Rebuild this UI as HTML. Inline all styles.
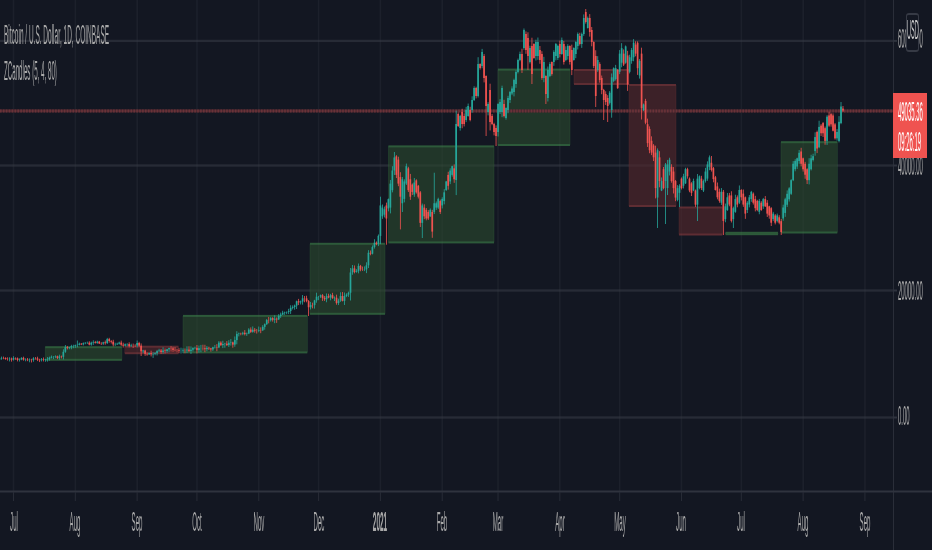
<!DOCTYPE html>
<html><head><meta charset="utf-8"><style>
html,body{margin:0;padding:0;background:#131722;width:932px;height:550px;overflow:hidden;position:relative;font-family:"Liberation Sans", sans-serif}
.t{position:absolute;line-height:1;white-space:nowrap;transform-origin:0 0;filter:grayscale(1)}
</style></head><body>
<svg width="932" height="550" viewBox="0 0 932 550" style="position:absolute;left:0;top:0"><rect x="0" y="0" width="932" height="550" fill="#131722"/><rect x="12.60" y="0" width="1.8" height="491" fill="#181c27"/><rect x="74.41" y="0" width="1.8" height="491" fill="#181c27"/><rect x="136.23" y="0" width="1.8" height="491" fill="#181c27"/><rect x="196.05" y="0" width="1.8" height="491" fill="#181c27"/><rect x="257.86" y="0" width="1.8" height="491" fill="#181c27"/><rect x="317.68" y="0" width="1.8" height="491" fill="#181c27"/><rect x="379.50" y="0" width="1.8" height="491" fill="#181c27"/><rect x="441.31" y="0" width="1.8" height="491" fill="#181c27"/><rect x="497.14" y="0" width="1.8" height="491" fill="#181c27"/><rect x="558.96" y="0" width="1.8" height="491" fill="#181c27"/><rect x="618.78" y="0" width="1.8" height="491" fill="#181c27"/><rect x="680.59" y="0" width="1.8" height="491" fill="#181c27"/><rect x="740.41" y="0" width="1.8" height="491" fill="#181c27"/><rect x="802.22" y="0" width="1.8" height="491" fill="#181c27"/><rect x="864.04" y="0" width="1.8" height="491" fill="#181c27"/><rect x="0" y="39.70" width="893" height="2.4" fill="#20242f"/><rect x="0" y="164.30" width="893" height="2.4" fill="#20242f"/><rect x="0" y="289.30" width="893" height="2.4" fill="#20242f"/><rect x="0" y="416.30" width="893" height="2.4" fill="#20242f"/><rect x="45.20" y="347.20" width="76.70" height="12.60" fill="#213629"/><rect x="45.20" y="346.20" width="76.70" height="2" fill="#2d5a3a"/><rect x="45.20" y="358.80" width="76.70" height="2" fill="#2d5a3a"/><rect x="44.90" y="347.20" width="0.6" height="12.60" fill="#2d5a3a" opacity="0.6"/><rect x="121.60" y="347.20" width="0.6" height="12.60" fill="#2d5a3a" opacity="0.6"/><rect x="124.80" y="346.70" width="53.70" height="6.50" fill="#3c2128"/><rect x="124.80" y="345.70" width="53.70" height="2" fill="#5e2d33"/><rect x="124.80" y="352.20" width="53.70" height="2" fill="#5e2d33"/><rect x="124.50" y="346.70" width="0.6" height="6.50" fill="#5e2d33" opacity="0.6"/><rect x="178.20" y="346.70" width="0.6" height="6.50" fill="#5e2d33" opacity="0.6"/><rect x="183.00" y="315.90" width="124.30" height="36.50" fill="#213629"/><rect x="183.00" y="314.90" width="124.30" height="2" fill="#2d5a3a"/><rect x="183.00" y="351.40" width="124.30" height="2" fill="#2d5a3a"/><rect x="182.70" y="315.90" width="0.6" height="36.50" fill="#2d5a3a" opacity="0.6"/><rect x="307.00" y="315.90" width="0.6" height="36.50" fill="#2d5a3a" opacity="0.6"/><rect x="310.00" y="243.80" width="75.00" height="70.00" fill="#213629"/><rect x="310.00" y="242.80" width="75.00" height="2" fill="#2d5a3a"/><rect x="310.00" y="312.80" width="75.00" height="2" fill="#2d5a3a"/><rect x="309.70" y="243.80" width="0.6" height="70.00" fill="#2d5a3a" opacity="0.6"/><rect x="384.70" y="243.80" width="0.6" height="70.00" fill="#2d5a3a" opacity="0.6"/><rect x="388.40" y="146.40" width="105.60" height="96.00" fill="#213629"/><rect x="388.40" y="145.40" width="105.60" height="2" fill="#2d5a3a"/><rect x="388.40" y="241.40" width="105.60" height="2" fill="#2d5a3a"/><rect x="388.10" y="146.40" width="0.6" height="96.00" fill="#2d5a3a" opacity="0.6"/><rect x="493.70" y="146.40" width="0.6" height="96.00" fill="#2d5a3a" opacity="0.6"/><rect x="498.00" y="69.60" width="72.00" height="75.40" fill="#213629"/><rect x="498.00" y="68.60" width="72.00" height="2" fill="#2d5a3a"/><rect x="498.00" y="144.00" width="72.00" height="2" fill="#2d5a3a"/><rect x="497.70" y="69.60" width="0.6" height="75.40" fill="#2d5a3a" opacity="0.6"/><rect x="569.70" y="69.60" width="0.6" height="75.40" fill="#2d5a3a" opacity="0.6"/><rect x="574.00" y="70.00" width="55.00" height="14.00" fill="#3c2128"/><rect x="574.00" y="69.00" width="55.00" height="2" fill="#5e2d33"/><rect x="574.00" y="83.00" width="55.00" height="2" fill="#5e2d33"/><rect x="573.70" y="70.00" width="0.6" height="14.00" fill="#5e2d33" opacity="0.6"/><rect x="628.70" y="70.00" width="0.6" height="14.00" fill="#5e2d33" opacity="0.6"/><rect x="629.00" y="85.00" width="47.00" height="121.00" fill="#3c2128"/><rect x="629.00" y="84.00" width="47.00" height="2" fill="#5e2d33"/><rect x="629.00" y="205.00" width="47.00" height="2" fill="#5e2d33"/><rect x="628.70" y="85.00" width="0.6" height="121.00" fill="#5e2d33" opacity="0.6"/><rect x="675.70" y="85.00" width="0.6" height="121.00" fill="#5e2d33" opacity="0.6"/><rect x="679.00" y="207.50" width="43.40" height="27.00" fill="#3c2128"/><rect x="679.00" y="206.50" width="43.40" height="2" fill="#5e2d33"/><rect x="679.00" y="233.50" width="43.40" height="2" fill="#5e2d33"/><rect x="678.70" y="207.50" width="0.6" height="27.00" fill="#5e2d33" opacity="0.6"/><rect x="722.10" y="207.50" width="0.6" height="27.00" fill="#5e2d33" opacity="0.6"/><rect x="725.50" y="232.80" width="52.50" height="1.40" fill="#213629"/><rect x="725.50" y="231.80" width="52.50" height="2" fill="#2d5a3a"/><rect x="725.50" y="233.20" width="52.50" height="2" fill="#2d5a3a"/><rect x="725.20" y="232.80" width="0.6" height="1.40" fill="#2d5a3a" opacity="0.6"/><rect x="777.70" y="232.80" width="0.6" height="1.40" fill="#2d5a3a" opacity="0.6"/><rect x="781.00" y="142.20" width="56.30" height="90.30" fill="#213629"/><rect x="781.00" y="141.20" width="56.30" height="2" fill="#2d5a3a"/><rect x="781.00" y="231.50" width="56.30" height="2" fill="#2d5a3a"/><rect x="780.70" y="142.20" width="0.6" height="90.30" fill="#2d5a3a" opacity="0.6"/><rect x="837.00" y="142.20" width="0.6" height="90.30" fill="#2d5a3a" opacity="0.6"/><rect x="12.60" y="0" width="1.8" height="491" fill="#ffffff" opacity="0.018"/><rect x="74.41" y="0" width="1.8" height="491" fill="#ffffff" opacity="0.018"/><rect x="136.23" y="0" width="1.8" height="491" fill="#ffffff" opacity="0.018"/><rect x="196.05" y="0" width="1.8" height="491" fill="#ffffff" opacity="0.018"/><rect x="257.86" y="0" width="1.8" height="491" fill="#ffffff" opacity="0.018"/><rect x="317.68" y="0" width="1.8" height="491" fill="#ffffff" opacity="0.018"/><rect x="379.50" y="0" width="1.8" height="491" fill="#ffffff" opacity="0.018"/><rect x="441.31" y="0" width="1.8" height="491" fill="#ffffff" opacity="0.018"/><rect x="497.14" y="0" width="1.8" height="491" fill="#ffffff" opacity="0.018"/><rect x="558.96" y="0" width="1.8" height="491" fill="#ffffff" opacity="0.018"/><rect x="618.78" y="0" width="1.8" height="491" fill="#ffffff" opacity="0.018"/><rect x="680.59" y="0" width="1.8" height="491" fill="#ffffff" opacity="0.018"/><rect x="740.41" y="0" width="1.8" height="491" fill="#ffffff" opacity="0.018"/><rect x="802.22" y="0" width="1.8" height="491" fill="#ffffff" opacity="0.018"/><rect x="864.04" y="0" width="1.8" height="491" fill="#ffffff" opacity="0.018"/><rect x="0" y="39.70" width="893" height="2.4" fill="#ffffff" opacity="0.035"/><rect x="0" y="164.30" width="893" height="2.4" fill="#ffffff" opacity="0.035"/><rect x="0" y="289.30" width="893" height="2.4" fill="#ffffff" opacity="0.035"/><rect x="0" y="416.30" width="893" height="2.4" fill="#ffffff" opacity="0.035"/><rect x="0" y="109.4" width="893" height="3" fill="#4c2830"/><line x1="0" y1="110.9" x2="893" y2="110.9" stroke="#6a3339" stroke-width="3" stroke-dasharray="1.6 1.3"/><rect x="-0.86" y="357.80" width="0.8" height="3.20" fill="#26a69a"/><rect x="-1.31" y="358.52" width="1.7" height="1.00" fill="#26a69a"/><rect x="1.14" y="356.58" width="0.8" height="3.15" fill="#26a69a"/><rect x="0.69" y="357.88" width="1.7" height="0.64" fill="#26a69a"/><rect x="3.13" y="356.62" width="0.8" height="2.62" fill="#ef5350"/><rect x="2.68" y="357.88" width="1.7" height="0.06" fill="#ef5350"/><rect x="5.12" y="357.33" width="0.8" height="2.39" fill="#ef5350"/><rect x="4.67" y="357.94" width="1.7" height="1.15" fill="#ef5350"/><rect x="7.12" y="357.35" width="0.8" height="3.23" fill="#ef5350"/><rect x="6.67" y="359.09" width="1.7" height="0.07" fill="#ef5350"/><rect x="9.11" y="357.26" width="0.8" height="4.16" fill="#26a69a"/><rect x="8.66" y="358.70" width="1.7" height="0.46" fill="#26a69a"/><rect x="11.11" y="357.61" width="0.8" height="4.00" fill="#ef5350"/><rect x="10.66" y="358.70" width="1.7" height="0.94" fill="#ef5350"/><rect x="13.10" y="356.27" width="0.8" height="4.31" fill="#26a69a"/><rect x="12.65" y="358.06" width="1.7" height="1.59" fill="#26a69a"/><rect x="15.09" y="357.38" width="0.8" height="2.44" fill="#ef5350"/><rect x="14.64" y="358.06" width="1.7" height="0.17" fill="#ef5350"/><rect x="17.09" y="357.46" width="0.8" height="3.93" fill="#ef5350"/><rect x="16.64" y="358.23" width="1.7" height="1.78" fill="#ef5350"/><rect x="19.08" y="358.36" width="0.8" height="3.18" fill="#26a69a"/><rect x="18.63" y="359.41" width="1.7" height="0.60" fill="#26a69a"/><rect x="21.08" y="357.26" width="0.8" height="2.96" fill="#26a69a"/><rect x="20.63" y="357.85" width="1.7" height="1.57" fill="#26a69a"/><rect x="23.07" y="356.71" width="0.8" height="3.94" fill="#ef5350"/><rect x="22.62" y="357.85" width="1.7" height="1.83" fill="#ef5350"/><rect x="25.06" y="358.33" width="0.8" height="2.93" fill="#26a69a"/><rect x="24.61" y="359.51" width="1.7" height="0.17" fill="#26a69a"/><rect x="27.06" y="357.96" width="0.8" height="3.21" fill="#ef5350"/><rect x="26.61" y="359.51" width="1.7" height="0.68" fill="#ef5350"/><rect x="29.05" y="358.39" width="0.8" height="3.90" fill="#26a69a"/><rect x="28.60" y="359.68" width="1.7" height="0.52" fill="#26a69a"/><rect x="31.05" y="358.75" width="0.8" height="3.70" fill="#ef5350"/><rect x="30.60" y="359.68" width="1.7" height="0.41" fill="#ef5350"/><rect x="33.04" y="357.19" width="0.8" height="4.54" fill="#26a69a"/><rect x="32.59" y="358.32" width="1.7" height="1.78" fill="#26a69a"/><rect x="35.03" y="357.08" width="0.8" height="2.59" fill="#ef5350"/><rect x="34.58" y="358.32" width="1.7" height="0.03" fill="#ef5350"/><rect x="37.03" y="356.70" width="0.8" height="4.39" fill="#ef5350"/><rect x="36.58" y="358.34" width="1.7" height="1.38" fill="#ef5350"/><rect x="39.02" y="358.75" width="0.8" height="3.31" fill="#ef5350"/><rect x="38.57" y="359.72" width="1.7" height="0.51" fill="#ef5350"/><rect x="41.02" y="358.01" width="0.8" height="3.41" fill="#26a69a"/><rect x="40.57" y="359.38" width="1.7" height="0.85" fill="#26a69a"/><rect x="43.01" y="357.47" width="0.8" height="3.93" fill="#ef5350"/><rect x="42.56" y="359.38" width="1.7" height="0.62" fill="#ef5350"/><rect x="45.00" y="358.81" width="0.8" height="2.94" fill="#26a69a"/><rect x="44.55" y="359.40" width="1.7" height="0.61" fill="#26a69a"/><rect x="47.00" y="357.06" width="0.8" height="4.52" fill="#26a69a"/><rect x="46.55" y="359.05" width="1.7" height="0.35" fill="#26a69a"/><rect x="48.99" y="356.66" width="0.8" height="3.90" fill="#26a69a"/><rect x="48.54" y="357.74" width="1.7" height="1.31" fill="#26a69a"/><rect x="50.99" y="355.51" width="0.8" height="2.98" fill="#26a69a"/><rect x="50.54" y="356.71" width="1.7" height="1.03" fill="#26a69a"/><rect x="52.98" y="356.06" width="0.8" height="3.04" fill="#26a69a"/><rect x="52.53" y="356.64" width="1.7" height="0.06" fill="#26a69a"/><rect x="54.97" y="355.37" width="0.8" height="2.76" fill="#26a69a"/><rect x="54.52" y="356.24" width="1.7" height="0.40" fill="#26a69a"/><rect x="56.97" y="355.62" width="0.8" height="3.43" fill="#ef5350"/><rect x="56.52" y="356.24" width="1.7" height="1.64" fill="#ef5350"/><rect x="58.96" y="354.64" width="0.8" height="4.97" fill="#26a69a"/><rect x="58.51" y="356.46" width="1.7" height="1.42" fill="#26a69a"/><rect x="60.96" y="355.55" width="0.8" height="2.84" fill="#ef5350"/><rect x="60.51" y="356.46" width="1.7" height="0.33" fill="#ef5350"/><rect x="62.95" y="349.29" width="0.8" height="10.16" fill="#26a69a"/><rect x="62.50" y="351.78" width="1.7" height="5.01" fill="#26a69a"/><rect x="64.94" y="345.00" width="0.8" height="7.79" fill="#26a69a"/><rect x="64.49" y="347.14" width="1.7" height="4.65" fill="#26a69a"/><rect x="66.94" y="345.91" width="0.8" height="3.51" fill="#ef5350"/><rect x="66.49" y="347.14" width="1.7" height="0.90" fill="#ef5350"/><rect x="68.93" y="346.83" width="0.8" height="2.43" fill="#26a69a"/><rect x="68.48" y="347.34" width="1.7" height="0.70" fill="#26a69a"/><rect x="70.93" y="344.79" width="0.8" height="4.48" fill="#26a69a"/><rect x="70.48" y="346.14" width="1.7" height="1.20" fill="#26a69a"/><rect x="72.92" y="344.73" width="0.8" height="3.50" fill="#26a69a"/><rect x="72.47" y="346.01" width="1.7" height="0.13" fill="#26a69a"/><rect x="74.91" y="344.59" width="0.8" height="3.27" fill="#26a69a"/><rect x="74.46" y="345.17" width="1.7" height="0.84" fill="#26a69a"/><rect x="76.91" y="340.50" width="0.8" height="6.78" fill="#26a69a"/><rect x="76.46" y="344.78" width="1.7" height="0.38" fill="#26a69a"/><rect x="78.90" y="342.60" width="0.8" height="2.84" fill="#26a69a"/><rect x="78.45" y="343.70" width="1.7" height="1.09" fill="#26a69a"/><rect x="80.90" y="343.11" width="0.8" height="1.99" fill="#ef5350"/><rect x="80.45" y="343.70" width="1.7" height="0.68" fill="#ef5350"/><rect x="82.89" y="342.44" width="0.8" height="2.95" fill="#26a69a"/><rect x="82.44" y="343.18" width="1.7" height="1.19" fill="#26a69a"/><rect x="84.88" y="342.22" width="0.8" height="2.03" fill="#26a69a"/><rect x="84.43" y="342.72" width="1.7" height="0.47" fill="#26a69a"/><rect x="86.88" y="341.61" width="0.8" height="2.38" fill="#26a69a"/><rect x="86.43" y="342.66" width="1.7" height="0.06" fill="#26a69a"/><rect x="88.87" y="341.24" width="0.8" height="4.11" fill="#ef5350"/><rect x="88.42" y="342.66" width="1.7" height="1.96" fill="#ef5350"/><rect x="90.87" y="341.66" width="0.8" height="4.01" fill="#26a69a"/><rect x="90.42" y="342.68" width="1.7" height="1.94" fill="#26a69a"/><rect x="92.86" y="340.34" width="0.8" height="4.56" fill="#26a69a"/><rect x="92.41" y="342.12" width="1.7" height="0.56" fill="#26a69a"/><rect x="94.85" y="340.89" width="0.8" height="2.65" fill="#ef5350"/><rect x="94.40" y="342.12" width="1.7" height="0.76" fill="#ef5350"/><rect x="96.85" y="340.65" width="0.8" height="3.13" fill="#26a69a"/><rect x="96.40" y="341.66" width="1.7" height="1.22" fill="#26a69a"/><rect x="98.84" y="340.92" width="0.8" height="3.11" fill="#ef5350"/><rect x="98.39" y="341.66" width="1.7" height="1.84" fill="#ef5350"/><rect x="100.84" y="342.20" width="0.8" height="2.81" fill="#ef5350"/><rect x="100.39" y="343.50" width="1.7" height="0.14" fill="#ef5350"/><rect x="102.83" y="341.76" width="0.8" height="3.17" fill="#26a69a"/><rect x="102.38" y="342.30" width="1.7" height="1.34" fill="#26a69a"/><rect x="104.82" y="340.50" width="0.8" height="4.16" fill="#ef5350"/><rect x="104.37" y="342.30" width="1.7" height="0.82" fill="#ef5350"/><rect x="106.82" y="337.88" width="0.8" height="6.07" fill="#26a69a"/><rect x="106.37" y="339.11" width="1.7" height="4.00" fill="#26a69a"/><rect x="108.81" y="337.81" width="0.8" height="4.83" fill="#ef5350"/><rect x="108.36" y="339.11" width="1.7" height="1.86" fill="#ef5350"/><rect x="110.81" y="340.14" width="0.8" height="3.35" fill="#ef5350"/><rect x="110.36" y="340.97" width="1.7" height="0.76" fill="#ef5350"/><rect x="112.80" y="339.78" width="0.8" height="6.59" fill="#ef5350"/><rect x="112.35" y="341.73" width="1.7" height="2.78" fill="#ef5350"/><rect x="114.79" y="342.68" width="0.8" height="3.25" fill="#26a69a"/><rect x="114.34" y="344.29" width="1.7" height="0.22" fill="#26a69a"/><rect x="116.79" y="342.66" width="0.8" height="2.38" fill="#26a69a"/><rect x="116.34" y="343.70" width="1.7" height="0.59" fill="#26a69a"/><rect x="118.78" y="341.66" width="0.8" height="2.93" fill="#26a69a"/><rect x="118.33" y="342.58" width="1.7" height="1.12" fill="#26a69a"/><rect x="120.78" y="340.61" width="0.8" height="5.25" fill="#ef5350"/><rect x="120.33" y="342.58" width="1.7" height="2.11" fill="#ef5350"/><rect x="122.77" y="342.70" width="0.8" height="4.85" fill="#ef5350"/><rect x="122.32" y="344.69" width="1.7" height="0.93" fill="#ef5350"/><rect x="124.76" y="343.44" width="0.8" height="3.02" fill="#26a69a"/><rect x="124.31" y="344.27" width="1.7" height="1.35" fill="#26a69a"/><rect x="126.76" y="343.24" width="0.8" height="3.04" fill="#26a69a"/><rect x="126.31" y="344.05" width="1.7" height="0.22" fill="#26a69a"/><rect x="128.75" y="342.27" width="0.8" height="5.08" fill="#ef5350"/><rect x="128.30" y="344.05" width="1.7" height="2.08" fill="#ef5350"/><rect x="130.75" y="343.73" width="0.8" height="3.13" fill="#26a69a"/><rect x="130.30" y="345.43" width="1.7" height="0.69" fill="#26a69a"/><rect x="132.74" y="343.56" width="0.8" height="4.34" fill="#ef5350"/><rect x="132.29" y="345.43" width="1.7" height="0.02" fill="#ef5350"/><rect x="134.73" y="344.23" width="0.8" height="2.78" fill="#ef5350"/><rect x="134.28" y="345.45" width="1.7" height="0.07" fill="#ef5350"/><rect x="136.73" y="340.50" width="0.8" height="6.83" fill="#26a69a"/><rect x="136.28" y="342.97" width="1.7" height="2.55" fill="#26a69a"/><rect x="138.72" y="341.81" width="0.8" height="5.05" fill="#ef5350"/><rect x="138.27" y="342.97" width="1.7" height="2.71" fill="#ef5350"/><rect x="140.72" y="343.44" width="0.8" height="12.56" fill="#ef5350"/><rect x="140.27" y="345.69" width="1.7" height="5.65" fill="#ef5350"/><rect x="142.71" y="349.81" width="0.8" height="3.38" fill="#26a69a"/><rect x="142.26" y="350.54" width="1.7" height="0.80" fill="#26a69a"/><rect x="144.70" y="349.77" width="0.8" height="6.10" fill="#ef5350"/><rect x="144.25" y="350.54" width="1.7" height="3.32" fill="#ef5350"/><rect x="146.70" y="352.37" width="0.8" height="3.31" fill="#ef5350"/><rect x="146.25" y="353.86" width="1.7" height="0.49" fill="#ef5350"/><rect x="148.69" y="352.44" width="0.8" height="2.43" fill="#26a69a"/><rect x="148.24" y="353.14" width="1.7" height="1.21" fill="#26a69a"/><rect x="150.69" y="350.69" width="0.8" height="5.72" fill="#ef5350"/><rect x="150.24" y="353.14" width="1.7" height="1.19" fill="#ef5350"/><rect x="152.68" y="352.17" width="0.8" height="5.72" fill="#26a69a"/><rect x="152.23" y="353.97" width="1.7" height="0.36" fill="#26a69a"/><rect x="154.67" y="352.05" width="0.8" height="3.19" fill="#26a69a"/><rect x="154.22" y="353.18" width="1.7" height="0.79" fill="#26a69a"/><rect x="156.67" y="349.90" width="0.8" height="5.55" fill="#26a69a"/><rect x="156.22" y="351.12" width="1.7" height="2.06" fill="#26a69a"/><rect x="158.66" y="348.76" width="0.8" height="3.45" fill="#26a69a"/><rect x="158.21" y="350.51" width="1.7" height="0.61" fill="#26a69a"/><rect x="160.66" y="348.95" width="0.8" height="4.91" fill="#ef5350"/><rect x="160.21" y="350.51" width="1.7" height="1.47" fill="#ef5350"/><rect x="162.65" y="347.28" width="0.8" height="6.46" fill="#26a69a"/><rect x="162.20" y="350.49" width="1.7" height="1.49" fill="#26a69a"/><rect x="164.64" y="348.49" width="0.8" height="4.90" fill="#ef5350"/><rect x="164.19" y="350.49" width="1.7" height="0.55" fill="#ef5350"/><rect x="166.64" y="348.76" width="0.8" height="4.11" fill="#26a69a"/><rect x="166.19" y="349.32" width="1.7" height="1.73" fill="#26a69a"/><rect x="168.63" y="347.62" width="0.8" height="4.60" fill="#26a69a"/><rect x="168.18" y="348.13" width="1.7" height="1.19" fill="#26a69a"/><rect x="170.63" y="346.21" width="0.8" height="5.40" fill="#ef5350"/><rect x="170.18" y="348.13" width="1.7" height="0.24" fill="#ef5350"/><rect x="172.62" y="346.89" width="0.8" height="5.07" fill="#ef5350"/><rect x="172.17" y="348.36" width="1.7" height="1.54" fill="#ef5350"/><rect x="174.61" y="347.05" width="0.8" height="4.47" fill="#ef5350"/><rect x="174.16" y="349.90" width="1.7" height="0.28" fill="#ef5350"/><rect x="176.61" y="348.94" width="0.8" height="3.38" fill="#ef5350"/><rect x="176.16" y="350.19" width="1.7" height="0.02" fill="#ef5350"/><rect x="178.60" y="348.18" width="0.8" height="5.01" fill="#ef5350"/><rect x="178.15" y="350.20" width="1.7" height="0.73" fill="#ef5350"/><rect x="180.60" y="347.67" width="0.8" height="5.87" fill="#26a69a"/><rect x="180.15" y="350.91" width="1.7" height="0.03" fill="#26a69a"/><rect x="182.59" y="348.32" width="0.8" height="4.85" fill="#26a69a"/><rect x="182.14" y="350.33" width="1.7" height="0.57" fill="#26a69a"/><rect x="184.58" y="348.48" width="0.8" height="4.76" fill="#ef5350"/><rect x="184.13" y="350.33" width="1.7" height="0.17" fill="#ef5350"/><rect x="186.58" y="346.29" width="0.8" height="6.81" fill="#26a69a"/><rect x="186.13" y="349.61" width="1.7" height="0.89" fill="#26a69a"/><rect x="188.57" y="346.28" width="0.8" height="5.94" fill="#ef5350"/><rect x="188.12" y="349.61" width="1.7" height="1.33" fill="#ef5350"/><rect x="190.57" y="346.39" width="0.8" height="7.57" fill="#26a69a"/><rect x="190.12" y="349.72" width="1.7" height="1.22" fill="#26a69a"/><rect x="192.56" y="347.28" width="0.8" height="4.27" fill="#26a69a"/><rect x="192.11" y="348.14" width="1.7" height="1.58" fill="#26a69a"/><rect x="194.55" y="346.66" width="0.8" height="2.74" fill="#26a69a"/><rect x="194.10" y="347.88" width="1.7" height="0.26" fill="#26a69a"/><rect x="196.55" y="344.98" width="0.8" height="8.43" fill="#ef5350"/><rect x="196.10" y="347.88" width="1.7" height="2.27" fill="#ef5350"/><rect x="198.54" y="345.51" width="0.8" height="7.12" fill="#26a69a"/><rect x="198.09" y="348.16" width="1.7" height="1.99" fill="#26a69a"/><rect x="200.54" y="344.90" width="0.8" height="7.35" fill="#26a69a"/><rect x="200.09" y="348.05" width="1.7" height="0.11" fill="#26a69a"/><rect x="202.53" y="344.70" width="0.8" height="5.85" fill="#ef5350"/><rect x="202.08" y="348.05" width="1.7" height="0.19" fill="#ef5350"/><rect x="204.52" y="344.77" width="0.8" height="7.43" fill="#ef5350"/><rect x="204.07" y="348.24" width="1.7" height="0.96" fill="#ef5350"/><rect x="206.52" y="345.99" width="0.8" height="5.26" fill="#26a69a"/><rect x="206.07" y="347.78" width="1.7" height="1.42" fill="#26a69a"/><rect x="208.51" y="346.70" width="0.8" height="3.34" fill="#ef5350"/><rect x="208.06" y="347.78" width="1.7" height="0.61" fill="#ef5350"/><rect x="210.51" y="347.84" width="0.8" height="3.77" fill="#ef5350"/><rect x="210.06" y="348.40" width="1.7" height="1.05" fill="#ef5350"/><rect x="212.50" y="346.69" width="0.8" height="4.27" fill="#26a69a"/><rect x="212.05" y="347.24" width="1.7" height="2.21" fill="#26a69a"/><rect x="214.49" y="344.94" width="0.8" height="3.53" fill="#26a69a"/><rect x="214.04" y="346.98" width="1.7" height="0.26" fill="#26a69a"/><rect x="216.49" y="344.11" width="0.8" height="7.08" fill="#ef5350"/><rect x="216.04" y="346.98" width="1.7" height="0.47" fill="#ef5350"/><rect x="218.48" y="341.11" width="0.8" height="6.99" fill="#26a69a"/><rect x="218.03" y="342.60" width="1.7" height="4.85" fill="#26a69a"/><rect x="220.48" y="341.25" width="0.8" height="4.76" fill="#ef5350"/><rect x="220.03" y="342.60" width="1.7" height="2.51" fill="#ef5350"/><rect x="222.47" y="340.75" width="0.8" height="7.31" fill="#26a69a"/><rect x="222.02" y="343.99" width="1.7" height="1.12" fill="#26a69a"/><rect x="224.46" y="342.75" width="0.8" height="5.01" fill="#26a69a"/><rect x="224.01" y="343.70" width="1.7" height="0.29" fill="#26a69a"/><rect x="226.46" y="341.10" width="0.8" height="4.79" fill="#ef5350"/><rect x="226.01" y="343.70" width="1.7" height="1.42" fill="#ef5350"/><rect x="228.45" y="340.17" width="0.8" height="6.75" fill="#26a69a"/><rect x="228.00" y="342.79" width="1.7" height="2.32" fill="#26a69a"/><rect x="230.45" y="339.05" width="0.8" height="6.52" fill="#26a69a"/><rect x="230.00" y="342.37" width="1.7" height="0.43" fill="#26a69a"/><rect x="232.44" y="341.61" width="0.8" height="6.11" fill="#ef5350"/><rect x="231.99" y="342.37" width="1.7" height="2.24" fill="#ef5350"/><rect x="234.43" y="336.44" width="0.8" height="10.32" fill="#26a69a"/><rect x="233.98" y="340.07" width="1.7" height="4.53" fill="#26a69a"/><rect x="236.43" y="331.20" width="0.8" height="13.11" fill="#26a69a"/><rect x="235.98" y="333.93" width="1.7" height="6.14" fill="#26a69a"/><rect x="238.42" y="332.62" width="0.8" height="3.77" fill="#26a69a"/><rect x="237.97" y="333.50" width="1.7" height="0.43" fill="#26a69a"/><rect x="240.42" y="332.68" width="0.8" height="2.61" fill="#ef5350"/><rect x="239.97" y="333.50" width="1.7" height="0.24" fill="#ef5350"/><rect x="242.41" y="331.72" width="0.8" height="3.46" fill="#26a69a"/><rect x="241.96" y="332.82" width="1.7" height="0.92" fill="#26a69a"/><rect x="244.40" y="330.04" width="0.8" height="5.37" fill="#ef5350"/><rect x="243.95" y="332.82" width="1.7" height="1.22" fill="#ef5350"/><rect x="246.40" y="332.53" width="0.8" height="3.37" fill="#26a69a"/><rect x="245.95" y="333.56" width="1.7" height="0.49" fill="#26a69a"/><rect x="248.39" y="328.19" width="0.8" height="5.92" fill="#26a69a"/><rect x="247.94" y="329.57" width="1.7" height="3.99" fill="#26a69a"/><rect x="250.39" y="327.38" width="0.8" height="5.56" fill="#ef5350"/><rect x="249.94" y="329.57" width="1.7" height="2.29" fill="#ef5350"/><rect x="252.38" y="326.43" width="0.8" height="6.24" fill="#26a69a"/><rect x="251.93" y="329.76" width="1.7" height="2.09" fill="#26a69a"/><rect x="254.37" y="327.96" width="0.8" height="4.74" fill="#ef5350"/><rect x="253.92" y="329.76" width="1.7" height="0.96" fill="#ef5350"/><rect x="256.37" y="329.04" width="0.8" height="4.50" fill="#ef5350"/><rect x="255.92" y="330.72" width="1.7" height="0.00" fill="#ef5350"/><rect x="258.36" y="326.53" width="0.8" height="5.78" fill="#26a69a"/><rect x="257.91" y="329.97" width="1.7" height="0.75" fill="#26a69a"/><rect x="260.36" y="327.35" width="0.8" height="5.83" fill="#ef5350"/><rect x="259.91" y="329.97" width="1.7" height="0.31" fill="#ef5350"/><rect x="262.35" y="325.18" width="0.8" height="5.79" fill="#26a69a"/><rect x="261.90" y="326.85" width="1.7" height="3.44" fill="#26a69a"/><rect x="264.34" y="323.46" width="0.8" height="6.23" fill="#26a69a"/><rect x="263.89" y="324.18" width="1.7" height="2.66" fill="#26a69a"/><rect x="266.34" y="318.98" width="0.8" height="6.00" fill="#26a69a"/><rect x="265.89" y="320.05" width="1.7" height="4.13" fill="#26a69a"/><rect x="268.33" y="316.94" width="0.8" height="6.42" fill="#ef5350"/><rect x="267.88" y="320.05" width="1.7" height="0.16" fill="#ef5350"/><rect x="270.33" y="316.94" width="0.8" height="4.65" fill="#26a69a"/><rect x="269.88" y="318.17" width="1.7" height="2.04" fill="#26a69a"/><rect x="272.32" y="317.20" width="0.8" height="4.41" fill="#ef5350"/><rect x="271.87" y="318.17" width="1.7" height="1.60" fill="#ef5350"/><rect x="274.31" y="315.30" width="0.8" height="7.89" fill="#26a69a"/><rect x="273.86" y="318.69" width="1.7" height="1.09" fill="#26a69a"/><rect x="276.31" y="317.45" width="0.8" height="5.43" fill="#ef5350"/><rect x="275.86" y="318.69" width="1.7" height="0.78" fill="#ef5350"/><rect x="278.30" y="314.18" width="0.8" height="5.79" fill="#26a69a"/><rect x="277.85" y="315.89" width="1.7" height="3.58" fill="#26a69a"/><rect x="280.30" y="312.64" width="0.8" height="5.26" fill="#26a69a"/><rect x="279.85" y="314.56" width="1.7" height="1.32" fill="#26a69a"/><rect x="282.29" y="310.75" width="0.8" height="4.33" fill="#26a69a"/><rect x="281.84" y="312.77" width="1.7" height="1.80" fill="#26a69a"/><rect x="284.28" y="311.59" width="0.8" height="3.27" fill="#26a69a"/><rect x="283.83" y="312.36" width="1.7" height="0.41" fill="#26a69a"/><rect x="286.28" y="311.43" width="0.8" height="2.78" fill="#26a69a"/><rect x="285.83" y="312.00" width="1.7" height="0.36" fill="#26a69a"/><rect x="288.27" y="308.82" width="0.8" height="5.26" fill="#26a69a"/><rect x="287.82" y="311.08" width="1.7" height="0.92" fill="#26a69a"/><rect x="290.27" y="305.26" width="0.8" height="8.68" fill="#26a69a"/><rect x="289.82" y="307.92" width="1.7" height="3.16" fill="#26a69a"/><rect x="292.26" y="305.37" width="0.8" height="4.03" fill="#26a69a"/><rect x="291.81" y="307.03" width="1.7" height="0.89" fill="#26a69a"/><rect x="294.25" y="304.59" width="0.8" height="5.12" fill="#26a69a"/><rect x="293.80" y="305.54" width="1.7" height="1.50" fill="#26a69a"/><rect x="296.25" y="300.60" width="0.8" height="8.42" fill="#26a69a"/><rect x="295.80" y="301.26" width="1.7" height="4.28" fill="#26a69a"/><rect x="298.24" y="298.88" width="0.8" height="6.20" fill="#ef5350"/><rect x="297.79" y="301.26" width="1.7" height="1.12" fill="#ef5350"/><rect x="300.24" y="300.57" width="0.8" height="3.88" fill="#26a69a"/><rect x="299.79" y="301.48" width="1.7" height="0.89" fill="#26a69a"/><rect x="302.23" y="295.02" width="0.8" height="9.63" fill="#26a69a"/><rect x="301.78" y="298.27" width="1.7" height="3.21" fill="#26a69a"/><rect x="304.22" y="296.02" width="0.8" height="6.23" fill="#ef5350"/><rect x="303.77" y="298.27" width="1.7" height="0.13" fill="#ef5350"/><rect x="306.22" y="295.70" width="0.8" height="6.61" fill="#ef5350"/><rect x="305.77" y="298.40" width="1.7" height="2.69" fill="#ef5350"/><rect x="308.21" y="300.05" width="0.8" height="15.95" fill="#ef5350"/><rect x="307.76" y="301.09" width="1.7" height="6.15" fill="#ef5350"/><rect x="310.21" y="301.97" width="0.8" height="7.47" fill="#26a69a"/><rect x="309.76" y="305.02" width="1.7" height="2.21" fill="#26a69a"/><rect x="312.20" y="302.64" width="0.8" height="5.72" fill="#ef5350"/><rect x="311.75" y="305.02" width="1.7" height="0.12" fill="#ef5350"/><rect x="314.19" y="299.83" width="0.8" height="8.76" fill="#26a69a"/><rect x="313.74" y="300.35" width="1.7" height="4.80" fill="#26a69a"/><rect x="316.19" y="292.70" width="0.8" height="9.97" fill="#26a69a"/><rect x="315.74" y="296.70" width="1.7" height="3.64" fill="#26a69a"/><rect x="318.18" y="295.92" width="0.8" height="4.21" fill="#26a69a"/><rect x="317.73" y="296.62" width="1.7" height="0.08" fill="#26a69a"/><rect x="320.18" y="294.54" width="0.8" height="3.38" fill="#26a69a"/><rect x="319.73" y="295.26" width="1.7" height="1.36" fill="#26a69a"/><rect x="322.17" y="294.11" width="0.8" height="6.75" fill="#ef5350"/><rect x="321.72" y="295.26" width="1.7" height="2.74" fill="#ef5350"/><rect x="324.16" y="296.02" width="0.8" height="4.88" fill="#ef5350"/><rect x="323.71" y="298.00" width="1.7" height="1.25" fill="#ef5350"/><rect x="326.16" y="293.44" width="0.8" height="8.82" fill="#26a69a"/><rect x="325.71" y="296.17" width="1.7" height="3.07" fill="#26a69a"/><rect x="328.15" y="293.74" width="0.8" height="4.49" fill="#ef5350"/><rect x="327.70" y="296.17" width="1.7" height="1.33" fill="#ef5350"/><rect x="330.15" y="293.88" width="0.8" height="6.42" fill="#26a69a"/><rect x="329.70" y="295.16" width="1.7" height="2.34" fill="#26a69a"/><rect x="332.14" y="292.81" width="0.8" height="5.94" fill="#ef5350"/><rect x="331.69" y="295.16" width="1.7" height="3.05" fill="#ef5350"/><rect x="334.13" y="296.45" width="0.8" height="4.62" fill="#26a69a"/><rect x="333.68" y="297.75" width="1.7" height="0.45" fill="#26a69a"/><rect x="336.13" y="294.66" width="0.8" height="10.04" fill="#ef5350"/><rect x="335.68" y="297.75" width="1.7" height="5.34" fill="#ef5350"/><rect x="338.12" y="298.64" width="0.8" height="6.41" fill="#26a69a"/><rect x="337.67" y="300.59" width="1.7" height="2.50" fill="#26a69a"/><rect x="340.12" y="292.27" width="0.8" height="9.55" fill="#26a69a"/><rect x="339.67" y="296.02" width="1.7" height="4.57" fill="#26a69a"/><rect x="342.11" y="292.05" width="0.8" height="9.37" fill="#ef5350"/><rect x="341.66" y="296.02" width="1.7" height="4.83" fill="#ef5350"/><rect x="344.10" y="292.46" width="0.8" height="12.49" fill="#26a69a"/><rect x="343.65" y="296.01" width="1.7" height="4.85" fill="#26a69a"/><rect x="346.10" y="293.34" width="0.8" height="3.80" fill="#26a69a"/><rect x="345.65" y="294.64" width="1.7" height="1.37" fill="#26a69a"/><rect x="348.09" y="291.63" width="0.8" height="5.25" fill="#26a69a"/><rect x="347.64" y="292.77" width="1.7" height="1.88" fill="#26a69a"/><rect x="350.09" y="267.98" width="0.8" height="32.51" fill="#26a69a"/><rect x="349.64" y="272.45" width="1.7" height="20.32" fill="#26a69a"/><rect x="352.08" y="265.01" width="0.8" height="9.72" fill="#26a69a"/><rect x="351.63" y="268.39" width="1.7" height="4.05" fill="#26a69a"/><rect x="354.07" y="265.49" width="0.8" height="7.84" fill="#ef5350"/><rect x="353.62" y="268.39" width="1.7" height="3.65" fill="#ef5350"/><rect x="356.07" y="269.17" width="0.8" height="3.45" fill="#26a69a"/><rect x="355.62" y="271.13" width="1.7" height="0.92" fill="#26a69a"/><rect x="358.06" y="263.51" width="0.8" height="9.83" fill="#26a69a"/><rect x="357.61" y="265.89" width="1.7" height="5.24" fill="#26a69a"/><rect x="360.06" y="264.91" width="0.8" height="6.34" fill="#ef5350"/><rect x="359.61" y="265.89" width="1.7" height="3.69" fill="#ef5350"/><rect x="362.05" y="266.55" width="0.8" height="4.33" fill="#ef5350"/><rect x="361.60" y="269.57" width="1.7" height="0.10" fill="#ef5350"/><rect x="364.04" y="266.42" width="0.8" height="4.68" fill="#26a69a"/><rect x="363.59" y="269.44" width="1.7" height="0.24" fill="#26a69a"/><rect x="366.04" y="262.30" width="0.8" height="10.82" fill="#26a69a"/><rect x="365.59" y="265.32" width="1.7" height="4.12" fill="#26a69a"/><rect x="368.03" y="250.16" width="0.8" height="17.87" fill="#26a69a"/><rect x="367.58" y="252.76" width="1.7" height="12.56" fill="#26a69a"/><rect x="370.03" y="250.49" width="0.8" height="4.78" fill="#ef5350"/><rect x="369.58" y="252.76" width="1.7" height="0.93" fill="#ef5350"/><rect x="372.02" y="245.42" width="0.8" height="8.97" fill="#26a69a"/><rect x="371.57" y="247.06" width="1.7" height="6.63" fill="#26a69a"/><rect x="374.01" y="239.23" width="0.8" height="9.36" fill="#26a69a"/><rect x="373.56" y="242.72" width="1.7" height="4.34" fill="#26a69a"/><rect x="376.01" y="241.47" width="0.8" height="3.74" fill="#ef5350"/><rect x="375.56" y="242.72" width="1.7" height="1.19" fill="#ef5350"/><rect x="378.00" y="234.45" width="0.8" height="11.65" fill="#26a69a"/><rect x="377.55" y="235.81" width="1.7" height="8.10" fill="#26a69a"/><rect x="380.00" y="196.68" width="0.8" height="47.42" fill="#26a69a"/><rect x="379.55" y="205.43" width="1.7" height="30.53" fill="#26a69a"/><rect x="381.99" y="204.53" width="0.8" height="14.31" fill="#26a69a"/><rect x="381.54" y="207.61" width="1.7" height="8.72" fill="#26a69a"/><rect x="383.98" y="206.59" width="0.8" height="10.83" fill="#26a69a"/><rect x="383.53" y="209.25" width="1.7" height="5.45" fill="#26a69a"/><rect x="385.98" y="202.58" width="0.8" height="42.12" fill="#ef5350"/><rect x="385.53" y="205.43" width="1.7" height="13.09" fill="#ef5350"/><rect x="387.97" y="198.50" width="0.8" height="12.86" fill="#26a69a"/><rect x="387.52" y="199.16" width="1.7" height="9.27" fill="#26a69a"/><rect x="389.97" y="179.97" width="0.8" height="33.41" fill="#26a69a"/><rect x="389.52" y="183.62" width="1.7" height="23.99" fill="#26a69a"/><rect x="391.96" y="166.23" width="0.8" height="26.13" fill="#26a69a"/><rect x="391.51" y="170.53" width="1.7" height="19.63" fill="#26a69a"/><rect x="393.95" y="152.00" width="0.8" height="22.99" fill="#26a69a"/><rect x="393.50" y="157.45" width="1.7" height="13.09" fill="#26a69a"/><rect x="395.95" y="155.14" width="0.8" height="22.92" fill="#ef5350"/><rect x="395.50" y="156.36" width="1.7" height="18.54" fill="#ef5350"/><rect x="397.94" y="156.72" width="0.8" height="29.48" fill="#ef5350"/><rect x="397.49" y="159.63" width="1.7" height="23.99" fill="#ef5350"/><rect x="399.94" y="172.21" width="0.8" height="57.19" fill="#ef5350"/><rect x="399.49" y="177.08" width="1.7" height="19.63" fill="#ef5350"/><rect x="401.93" y="176.94" width="0.8" height="35.06" fill="#26a69a"/><rect x="401.48" y="179.26" width="1.7" height="23.99" fill="#26a69a"/><rect x="403.92" y="179.33" width="0.8" height="23.05" fill="#26a69a"/><rect x="403.47" y="181.44" width="1.7" height="17.45" fill="#26a69a"/><rect x="405.92" y="163.56" width="0.8" height="21.46" fill="#26a69a"/><rect x="405.47" y="166.17" width="1.7" height="17.45" fill="#26a69a"/><rect x="407.91" y="166.81" width="0.8" height="25.19" fill="#ef5350"/><rect x="407.46" y="168.35" width="1.7" height="21.81" fill="#ef5350"/><rect x="409.91" y="173.90" width="0.8" height="25.97" fill="#ef5350"/><rect x="409.46" y="179.26" width="1.7" height="17.45" fill="#ef5350"/><rect x="411.90" y="183.45" width="0.8" height="11.56" fill="#ef5350"/><rect x="411.45" y="184.57" width="1.7" height="7.36" fill="#ef5350"/><rect x="413.89" y="178.05" width="0.8" height="18.78" fill="#26a69a"/><rect x="413.44" y="182.53" width="1.7" height="12.00" fill="#26a69a"/><rect x="415.89" y="179.29" width="0.8" height="14.32" fill="#ef5350"/><rect x="415.44" y="180.35" width="1.7" height="12.00" fill="#ef5350"/><rect x="417.88" y="184.96" width="0.8" height="13.52" fill="#ef5350"/><rect x="417.43" y="185.80" width="1.7" height="10.91" fill="#ef5350"/><rect x="419.88" y="191.06" width="0.8" height="35.94" fill="#ef5350"/><rect x="419.43" y="192.34" width="1.7" height="30.53" fill="#ef5350"/><rect x="421.87" y="203.55" width="0.8" height="34.45" fill="#26a69a"/><rect x="421.42" y="205.43" width="1.7" height="17.45" fill="#26a69a"/><rect x="423.86" y="204.29" width="0.8" height="14.93" fill="#ef5350"/><rect x="423.41" y="207.61" width="1.7" height="8.72" fill="#ef5350"/><rect x="425.86" y="207.98" width="0.8" height="12.35" fill="#ef5350"/><rect x="425.41" y="209.79" width="1.7" height="8.72" fill="#ef5350"/><rect x="427.85" y="210.09" width="0.8" height="9.92" fill="#ef5350"/><rect x="427.40" y="211.97" width="1.7" height="6.54" fill="#ef5350"/><rect x="429.85" y="208.40" width="0.8" height="8.60" fill="#26a69a"/><rect x="429.40" y="209.79" width="1.7" height="6.54" fill="#26a69a"/><rect x="431.84" y="209.83" width="0.8" height="27.99" fill="#ef5350"/><rect x="431.39" y="211.97" width="1.7" height="19.63" fill="#ef5350"/><rect x="433.83" y="172.70" width="0.8" height="41.38" fill="#26a69a"/><rect x="433.38" y="203.25" width="1.7" height="8.72" fill="#26a69a"/><rect x="435.83" y="201.43" width="0.8" height="8.48" fill="#26a69a"/><rect x="435.38" y="203.25" width="1.7" height="4.36" fill="#26a69a"/><rect x="437.82" y="197.70" width="0.8" height="11.27" fill="#26a69a"/><rect x="437.37" y="198.89" width="1.7" height="8.72" fill="#26a69a"/><rect x="439.82" y="199.64" width="0.8" height="14.32" fill="#ef5350"/><rect x="439.37" y="201.07" width="1.7" height="10.91" fill="#ef5350"/><rect x="441.81" y="197.21" width="0.8" height="11.23" fill="#26a69a"/><rect x="441.36" y="198.89" width="1.7" height="6.54" fill="#26a69a"/><rect x="443.80" y="189.14" width="0.8" height="15.20" fill="#26a69a"/><rect x="443.35" y="192.34" width="1.7" height="8.72" fill="#26a69a"/><rect x="445.80" y="180.87" width="0.8" height="9.90" fill="#26a69a"/><rect x="445.35" y="181.44" width="1.7" height="8.72" fill="#26a69a"/><rect x="447.79" y="171.75" width="0.8" height="17.89" fill="#ef5350"/><rect x="447.34" y="174.90" width="1.7" height="10.91" fill="#ef5350"/><rect x="449.79" y="168.27" width="0.8" height="15.86" fill="#26a69a"/><rect x="449.34" y="170.53" width="1.7" height="10.91" fill="#26a69a"/><rect x="451.78" y="165.67" width="0.8" height="10.97" fill="#26a69a"/><rect x="451.33" y="166.17" width="1.7" height="8.72" fill="#26a69a"/><rect x="453.77" y="164.40" width="0.8" height="18.44" fill="#ef5350"/><rect x="453.32" y="168.35" width="1.7" height="10.91" fill="#ef5350"/><rect x="455.77" y="110.67" width="0.8" height="84.42" fill="#26a69a"/><rect x="455.32" y="124.00" width="1.7" height="56.00" fill="#26a69a"/><rect x="457.76" y="112.51" width="0.8" height="14.43" fill="#ef5350"/><rect x="457.31" y="114.00" width="1.7" height="12.00" fill="#ef5350"/><rect x="459.76" y="114.88" width="0.8" height="15.71" fill="#26a69a"/><rect x="459.31" y="116.00" width="1.7" height="12.00" fill="#26a69a"/><rect x="461.75" y="108.77" width="0.8" height="19.49" fill="#ef5350"/><rect x="461.30" y="112.00" width="1.7" height="12.00" fill="#ef5350"/><rect x="463.74" y="113.33" width="0.8" height="13.11" fill="#ef5350"/><rect x="463.29" y="116.00" width="1.7" height="8.00" fill="#ef5350"/><rect x="465.74" y="106.82" width="0.8" height="15.28" fill="#26a69a"/><rect x="465.29" y="110.00" width="1.7" height="10.00" fill="#26a69a"/><rect x="467.73" y="103.57" width="0.8" height="13.07" fill="#26a69a"/><rect x="467.28" y="106.00" width="1.7" height="10.00" fill="#26a69a"/><rect x="469.73" y="106.76" width="0.8" height="14.55" fill="#ef5350"/><rect x="469.28" y="110.00" width="1.7" height="10.00" fill="#ef5350"/><rect x="471.72" y="96.28" width="0.8" height="16.48" fill="#26a69a"/><rect x="471.27" y="100.00" width="1.7" height="10.00" fill="#26a69a"/><rect x="473.71" y="86.28" width="0.8" height="14.73" fill="#26a69a"/><rect x="473.26" y="88.00" width="1.7" height="12.00" fill="#26a69a"/><rect x="475.71" y="86.74" width="0.8" height="11.66" fill="#ef5350"/><rect x="475.26" y="88.00" width="1.7" height="8.00" fill="#ef5350"/><rect x="477.70" y="57.21" width="0.8" height="40.30" fill="#26a69a"/><rect x="477.25" y="64.00" width="1.7" height="32.00" fill="#26a69a"/><rect x="479.70" y="63.36" width="0.8" height="6.19" fill="#ef5350"/><rect x="479.25" y="64.00" width="1.7" height="4.00" fill="#ef5350"/><rect x="481.69" y="48.88" width="0.8" height="19.37" fill="#26a69a"/><rect x="481.24" y="52.00" width="1.7" height="14.00" fill="#26a69a"/><rect x="483.68" y="54.05" width="0.8" height="28.36" fill="#ef5350"/><rect x="483.23" y="56.00" width="1.7" height="22.00" fill="#ef5350"/><rect x="485.68" y="75.41" width="0.8" height="60.59" fill="#ef5350"/><rect x="485.23" y="76.00" width="1.7" height="30.00" fill="#ef5350"/><rect x="487.67" y="102.12" width="0.8" height="13.26" fill="#26a69a"/><rect x="487.22" y="104.00" width="1.7" height="8.00" fill="#26a69a"/><rect x="489.67" y="83.70" width="0.8" height="46.76" fill="#ef5350"/><rect x="489.22" y="90.00" width="1.7" height="32.00" fill="#ef5350"/><rect x="491.66" y="114.07" width="0.8" height="11.13" fill="#ef5350"/><rect x="491.21" y="116.00" width="1.7" height="8.00" fill="#ef5350"/><rect x="493.65" y="122.76" width="0.8" height="12.62" fill="#ef5350"/><rect x="493.20" y="124.00" width="1.7" height="8.00" fill="#ef5350"/><rect x="495.65" y="125.39" width="0.8" height="20.61" fill="#ef5350"/><rect x="495.20" y="128.00" width="1.7" height="8.00" fill="#ef5350"/><rect x="497.64" y="103.33" width="0.8" height="33.16" fill="#26a69a"/><rect x="497.19" y="104.00" width="1.7" height="28.00" fill="#26a69a"/><rect x="499.64" y="99.14" width="0.8" height="14.83" fill="#26a69a"/><rect x="499.19" y="102.00" width="1.7" height="10.00" fill="#26a69a"/><rect x="501.63" y="85.70" width="0.8" height="31.47" fill="#26a69a"/><rect x="501.18" y="88.00" width="1.7" height="24.00" fill="#26a69a"/><rect x="503.62" y="99.80" width="0.8" height="17.61" fill="#ef5350"/><rect x="503.17" y="104.00" width="1.7" height="12.00" fill="#ef5350"/><rect x="505.62" y="107.38" width="0.8" height="12.30" fill="#26a69a"/><rect x="505.17" y="108.00" width="1.7" height="10.00" fill="#26a69a"/><rect x="507.61" y="95.82" width="0.8" height="17.41" fill="#26a69a"/><rect x="507.16" y="98.00" width="1.7" height="12.00" fill="#26a69a"/><rect x="509.61" y="90.91" width="0.8" height="11.99" fill="#26a69a"/><rect x="509.16" y="92.00" width="1.7" height="8.00" fill="#26a69a"/><rect x="511.60" y="86.34" width="0.8" height="8.80" fill="#26a69a"/><rect x="511.15" y="88.50" width="1.7" height="5.00" fill="#26a69a"/><rect x="513.59" y="78.68" width="0.8" height="17.70" fill="#26a69a"/><rect x="513.14" y="80.00" width="1.7" height="12.00" fill="#26a69a"/><rect x="515.59" y="70.25" width="0.8" height="17.53" fill="#26a69a"/><rect x="515.14" y="72.00" width="1.7" height="12.00" fill="#26a69a"/><rect x="517.58" y="58.58" width="0.8" height="14.81" fill="#26a69a"/><rect x="517.13" y="60.00" width="1.7" height="12.00" fill="#26a69a"/><rect x="519.58" y="51.60" width="0.8" height="9.64" fill="#26a69a"/><rect x="519.13" y="54.00" width="1.7" height="6.00" fill="#26a69a"/><rect x="521.57" y="48.74" width="0.8" height="24.24" fill="#ef5350"/><rect x="521.12" y="54.00" width="1.7" height="16.00" fill="#ef5350"/><rect x="523.56" y="28.47" width="0.8" height="21.26" fill="#26a69a"/><rect x="523.11" y="30.00" width="1.7" height="18.00" fill="#26a69a"/><rect x="525.56" y="31.41" width="0.8" height="22.41" fill="#ef5350"/><rect x="525.11" y="34.00" width="1.7" height="16.00" fill="#ef5350"/><rect x="527.55" y="32.28" width="0.8" height="37.72" fill="#ef5350"/><rect x="527.10" y="38.00" width="1.7" height="18.00" fill="#ef5350"/><rect x="529.55" y="45.73" width="0.8" height="17.73" fill="#26a69a"/><rect x="529.10" y="48.00" width="1.7" height="14.00" fill="#26a69a"/><rect x="531.54" y="37.71" width="0.8" height="46.29" fill="#ef5350"/><rect x="531.09" y="46.00" width="1.7" height="28.00" fill="#ef5350"/><rect x="533.53" y="43.27" width="0.8" height="15.50" fill="#ef5350"/><rect x="533.08" y="44.00" width="1.7" height="14.00" fill="#ef5350"/><rect x="535.53" y="39.73" width="0.8" height="20.81" fill="#26a69a"/><rect x="535.08" y="42.00" width="1.7" height="14.00" fill="#26a69a"/><rect x="537.52" y="37.52" width="0.8" height="22.27" fill="#26a69a"/><rect x="537.07" y="42.00" width="1.7" height="14.00" fill="#26a69a"/><rect x="539.52" y="46.01" width="0.8" height="17.75" fill="#ef5350"/><rect x="539.07" y="50.00" width="1.7" height="10.00" fill="#ef5350"/><rect x="541.51" y="51.20" width="0.8" height="28.60" fill="#ef5350"/><rect x="541.06" y="54.00" width="1.7" height="24.00" fill="#ef5350"/><rect x="543.50" y="56.82" width="0.8" height="25.41" fill="#26a69a"/><rect x="543.05" y="62.00" width="1.7" height="16.00" fill="#26a69a"/><rect x="545.50" y="75.32" width="0.8" height="28.68" fill="#ef5350"/><rect x="545.05" y="76.00" width="1.7" height="18.00" fill="#ef5350"/><rect x="547.49" y="66.47" width="0.8" height="35.02" fill="#26a69a"/><rect x="547.04" y="70.00" width="1.7" height="28.00" fill="#26a69a"/><rect x="549.49" y="62.17" width="0.8" height="15.00" fill="#26a69a"/><rect x="549.04" y="64.00" width="1.7" height="12.00" fill="#26a69a"/><rect x="551.48" y="61.49" width="0.8" height="14.13" fill="#ef5350"/><rect x="551.03" y="62.00" width="1.7" height="12.00" fill="#ef5350"/><rect x="553.47" y="50.27" width="0.8" height="15.57" fill="#26a69a"/><rect x="553.02" y="52.00" width="1.7" height="10.00" fill="#26a69a"/><rect x="555.47" y="43.01" width="0.8" height="17.35" fill="#26a69a"/><rect x="555.02" y="44.00" width="1.7" height="12.00" fill="#26a69a"/><rect x="557.46" y="44.67" width="0.8" height="15.26" fill="#26a69a"/><rect x="557.01" y="46.00" width="1.7" height="12.00" fill="#26a69a"/><rect x="559.46" y="40.62" width="0.8" height="16.75" fill="#ef5350"/><rect x="559.01" y="44.00" width="1.7" height="10.00" fill="#ef5350"/><rect x="561.45" y="37.55" width="0.8" height="17.17" fill="#26a69a"/><rect x="561.00" y="40.00" width="1.7" height="14.00" fill="#26a69a"/><rect x="563.44" y="40.90" width="0.8" height="23.65" fill="#ef5350"/><rect x="562.99" y="44.00" width="1.7" height="18.00" fill="#ef5350"/><rect x="565.44" y="46.28" width="0.8" height="14.89" fill="#26a69a"/><rect x="564.99" y="50.00" width="1.7" height="10.00" fill="#26a69a"/><rect x="567.43" y="44.23" width="0.8" height="15.41" fill="#26a69a"/><rect x="566.98" y="46.00" width="1.7" height="10.00" fill="#26a69a"/><rect x="569.43" y="45.35" width="0.8" height="19.21" fill="#ef5350"/><rect x="568.98" y="46.00" width="1.7" height="16.00" fill="#ef5350"/><rect x="571.42" y="44.63" width="0.8" height="30.47" fill="#ef5350"/><rect x="570.97" y="50.00" width="1.7" height="20.00" fill="#ef5350"/><rect x="573.41" y="47.34" width="0.8" height="13.30" fill="#26a69a"/><rect x="572.96" y="48.00" width="1.7" height="12.00" fill="#26a69a"/><rect x="575.41" y="41.25" width="0.8" height="16.93" fill="#26a69a"/><rect x="574.96" y="42.00" width="1.7" height="12.00" fill="#26a69a"/><rect x="577.40" y="32.47" width="0.8" height="17.02" fill="#26a69a"/><rect x="576.95" y="34.00" width="1.7" height="12.00" fill="#26a69a"/><rect x="579.40" y="32.80" width="0.8" height="12.71" fill="#ef5350"/><rect x="578.95" y="36.00" width="1.7" height="8.00" fill="#ef5350"/><rect x="581.39" y="32.55" width="0.8" height="15.31" fill="#26a69a"/><rect x="580.94" y="34.00" width="1.7" height="10.00" fill="#26a69a"/><rect x="583.38" y="14.42" width="0.8" height="21.40" fill="#26a69a"/><rect x="582.93" y="18.00" width="1.7" height="16.00" fill="#26a69a"/><rect x="585.38" y="8.99" width="0.8" height="14.62" fill="#ef5350"/><rect x="584.93" y="12.00" width="1.7" height="10.00" fill="#ef5350"/><rect x="587.37" y="16.54" width="0.8" height="11.98" fill="#26a69a"/><rect x="586.92" y="18.00" width="1.7" height="10.00" fill="#26a69a"/><rect x="589.37" y="14.10" width="0.8" height="22.52" fill="#ef5350"/><rect x="588.92" y="18.00" width="1.7" height="14.00" fill="#ef5350"/><rect x="591.36" y="26.96" width="0.8" height="19.31" fill="#ef5350"/><rect x="590.91" y="30.00" width="1.7" height="12.00" fill="#ef5350"/><rect x="593.35" y="41.33" width="0.8" height="26.81" fill="#ef5350"/><rect x="592.90" y="42.00" width="1.7" height="24.00" fill="#ef5350"/><rect x="595.35" y="50.27" width="0.8" height="56.75" fill="#ef5350"/><rect x="594.90" y="56.00" width="1.7" height="40.00" fill="#ef5350"/><rect x="597.34" y="56.16" width="0.8" height="15.69" fill="#26a69a"/><rect x="596.89" y="60.00" width="1.7" height="10.00" fill="#26a69a"/><rect x="599.34" y="62.24" width="0.8" height="20.40" fill="#ef5350"/><rect x="598.89" y="64.00" width="1.7" height="16.00" fill="#ef5350"/><rect x="601.33" y="75.53" width="0.8" height="18.69" fill="#ef5350"/><rect x="600.88" y="78.00" width="1.7" height="12.00" fill="#ef5350"/><rect x="603.32" y="88.86" width="0.8" height="31.14" fill="#ef5350"/><rect x="602.87" y="90.00" width="1.7" height="10.00" fill="#ef5350"/><rect x="605.32" y="91.28" width="0.8" height="13.68" fill="#ef5350"/><rect x="604.87" y="94.00" width="1.7" height="8.00" fill="#ef5350"/><rect x="607.31" y="95.18" width="0.8" height="26.82" fill="#ef5350"/><rect x="606.86" y="98.00" width="1.7" height="8.00" fill="#ef5350"/><rect x="609.31" y="91.07" width="0.8" height="13.48" fill="#26a69a"/><rect x="608.86" y="92.73" width="1.7" height="10.18" fill="#26a69a"/><rect x="611.30" y="73.45" width="0.8" height="44.23" fill="#26a69a"/><rect x="610.85" y="77.27" width="1.7" height="32.73" fill="#26a69a"/><rect x="613.29" y="67.35" width="0.8" height="14.88" fill="#26a69a"/><rect x="612.84" y="68.18" width="1.7" height="12.73" fill="#26a69a"/><rect x="615.29" y="64.88" width="0.8" height="15.64" fill="#26a69a"/><rect x="614.84" y="68.18" width="1.7" height="10.91" fill="#26a69a"/><rect x="617.28" y="69.14" width="0.8" height="19.73" fill="#ef5350"/><rect x="616.83" y="70.00" width="1.7" height="18.18" fill="#ef5350"/><rect x="619.28" y="50.07" width="0.8" height="24.05" fill="#26a69a"/><rect x="618.83" y="53.64" width="1.7" height="18.18" fill="#26a69a"/><rect x="621.27" y="43.14" width="0.8" height="24.19" fill="#26a69a"/><rect x="620.82" y="48.18" width="1.7" height="14.55" fill="#26a69a"/><rect x="623.26" y="49.45" width="0.8" height="16.58" fill="#ef5350"/><rect x="622.81" y="53.64" width="1.7" height="10.91" fill="#ef5350"/><rect x="625.26" y="45.44" width="0.8" height="18.28" fill="#26a69a"/><rect x="624.81" y="46.36" width="1.7" height="16.36" fill="#26a69a"/><rect x="627.25" y="50.83" width="0.8" height="40.09" fill="#ef5350"/><rect x="626.80" y="55.45" width="1.7" height="29.09" fill="#ef5350"/><rect x="629.25" y="54.70" width="0.8" height="18.70" fill="#26a69a"/><rect x="628.80" y="57.27" width="1.7" height="14.55" fill="#26a69a"/><rect x="631.24" y="47.95" width="0.8" height="15.77" fill="#26a69a"/><rect x="630.79" y="50.00" width="1.7" height="10.91" fill="#26a69a"/><rect x="633.23" y="39.10" width="0.8" height="22.14" fill="#26a69a"/><rect x="632.78" y="42.73" width="1.7" height="14.55" fill="#26a69a"/><rect x="635.23" y="41.27" width="0.8" height="15.04" fill="#ef5350"/><rect x="634.78" y="44.55" width="1.7" height="9.09" fill="#ef5350"/><rect x="637.22" y="41.34" width="0.8" height="33.54" fill="#ef5350"/><rect x="636.77" y="42.73" width="1.7" height="25.45" fill="#ef5350"/><rect x="639.22" y="59.05" width="0.8" height="19.54" fill="#26a69a"/><rect x="638.77" y="60.91" width="1.7" height="14.55" fill="#26a69a"/><rect x="641.21" y="47.68" width="0.8" height="71.81" fill="#ef5350"/><rect x="640.76" y="53.64" width="1.7" height="54.55" fill="#ef5350"/><rect x="643.20" y="103.57" width="0.8" height="7.51" fill="#26a69a"/><rect x="642.75" y="104.55" width="1.7" height="5.45" fill="#26a69a"/><rect x="645.20" y="98.83" width="0.8" height="25.39" fill="#ef5350"/><rect x="644.75" y="100.91" width="1.7" height="21.82" fill="#ef5350"/><rect x="647.19" y="118.63" width="0.8" height="28.32" fill="#ef5350"/><rect x="646.74" y="124.20" width="1.7" height="18.93" fill="#ef5350"/><rect x="649.19" y="126.37" width="0.8" height="26.87" fill="#ef5350"/><rect x="648.74" y="128.93" width="1.7" height="21.30" fill="#ef5350"/><rect x="651.18" y="136.34" width="0.8" height="18.77" fill="#ef5350"/><rect x="650.73" y="140.77" width="1.7" height="11.83" fill="#ef5350"/><rect x="653.17" y="144.09" width="0.8" height="16.95" fill="#ef5350"/><rect x="652.72" y="145.50" width="1.7" height="11.83" fill="#ef5350"/><rect x="655.17" y="145.65" width="0.8" height="52.74" fill="#ef5350"/><rect x="654.72" y="152.60" width="1.7" height="35.50" fill="#ef5350"/><rect x="657.16" y="148.42" width="0.8" height="79.58" fill="#26a69a"/><rect x="656.71" y="150.24" width="1.7" height="47.34" fill="#26a69a"/><rect x="659.16" y="151.17" width="0.8" height="36.15" fill="#ef5350"/><rect x="658.71" y="157.34" width="1.7" height="23.67" fill="#ef5350"/><rect x="661.15" y="177.43" width="0.8" height="13.68" fill="#26a69a"/><rect x="660.70" y="181.01" width="1.7" height="9.47" fill="#26a69a"/><rect x="663.14" y="166.99" width="0.8" height="22.30" fill="#ef5350"/><rect x="662.69" y="169.17" width="1.7" height="18.93" fill="#ef5350"/><rect x="665.14" y="162.96" width="0.8" height="61.04" fill="#26a69a"/><rect x="664.69" y="164.44" width="1.7" height="16.57" fill="#26a69a"/><rect x="667.13" y="159.90" width="0.8" height="35.14" fill="#26a69a"/><rect x="666.68" y="164.44" width="1.7" height="23.67" fill="#26a69a"/><rect x="669.13" y="157.73" width="0.8" height="17.74" fill="#26a69a"/><rect x="668.68" y="159.70" width="1.7" height="11.83" fill="#26a69a"/><rect x="671.12" y="164.26" width="0.8" height="18.43" fill="#ef5350"/><rect x="670.67" y="166.80" width="1.7" height="14.20" fill="#ef5350"/><rect x="673.11" y="167.04" width="0.8" height="26.43" fill="#ef5350"/><rect x="672.66" y="171.54" width="1.7" height="16.57" fill="#ef5350"/><rect x="675.11" y="179.96" width="0.8" height="21.18" fill="#ef5350"/><rect x="674.66" y="181.01" width="1.7" height="16.57" fill="#ef5350"/><rect x="677.10" y="185.15" width="0.8" height="16.15" fill="#26a69a"/><rect x="676.65" y="188.11" width="1.7" height="11.83" fill="#26a69a"/><rect x="679.10" y="184.22" width="0.8" height="22.78" fill="#26a69a"/><rect x="678.65" y="185.74" width="1.7" height="7.10" fill="#26a69a"/><rect x="681.09" y="177.45" width="0.8" height="12.01" fill="#ef5350"/><rect x="680.64" y="178.64" width="1.7" height="9.47" fill="#ef5350"/><rect x="683.08" y="173.75" width="0.8" height="14.68" fill="#26a69a"/><rect x="682.63" y="176.27" width="1.7" height="9.47" fill="#26a69a"/><rect x="685.08" y="167.75" width="0.8" height="16.18" fill="#26a69a"/><rect x="684.63" y="169.17" width="1.7" height="14.20" fill="#26a69a"/><rect x="687.07" y="167.76" width="0.8" height="10.89" fill="#ef5350"/><rect x="686.62" y="169.17" width="1.7" height="7.10" fill="#ef5350"/><rect x="689.07" y="177.41" width="0.8" height="14.80" fill="#ef5350"/><rect x="688.62" y="178.64" width="1.7" height="11.83" fill="#ef5350"/><rect x="691.06" y="182.19" width="0.8" height="13.83" fill="#ef5350"/><rect x="690.61" y="183.37" width="1.7" height="9.47" fill="#ef5350"/><rect x="693.05" y="178.66" width="0.8" height="12.53" fill="#26a69a"/><rect x="692.60" y="181.01" width="1.7" height="9.47" fill="#26a69a"/><rect x="695.05" y="189.51" width="0.8" height="17.46" fill="#ef5350"/><rect x="694.60" y="190.47" width="1.7" height="14.20" fill="#ef5350"/><rect x="697.04" y="174.01" width="0.8" height="46.99" fill="#26a69a"/><rect x="696.59" y="178.64" width="1.7" height="26.04" fill="#26a69a"/><rect x="699.04" y="175.41" width="0.8" height="13.84" fill="#26a69a"/><rect x="698.59" y="176.27" width="1.7" height="11.83" fill="#26a69a"/><rect x="701.03" y="175.80" width="0.8" height="14.19" fill="#ef5350"/><rect x="700.58" y="178.64" width="1.7" height="9.47" fill="#ef5350"/><rect x="703.02" y="179.55" width="0.8" height="12.46" fill="#26a69a"/><rect x="702.57" y="181.01" width="1.7" height="9.47" fill="#26a69a"/><rect x="705.02" y="167.83" width="0.8" height="14.73" fill="#26a69a"/><rect x="704.57" y="171.54" width="1.7" height="9.47" fill="#26a69a"/><rect x="707.01" y="161.36" width="0.8" height="19.40" fill="#26a69a"/><rect x="706.56" y="164.44" width="1.7" height="14.20" fill="#26a69a"/><rect x="709.01" y="155.44" width="0.8" height="14.78" fill="#26a69a"/><rect x="708.56" y="157.34" width="1.7" height="9.47" fill="#26a69a"/><rect x="711.00" y="156.00" width="0.8" height="15.53" fill="#ef5350"/><rect x="710.55" y="162.73" width="1.7" height="7.27" fill="#ef5350"/><rect x="712.99" y="166.95" width="0.8" height="15.36" fill="#ef5350"/><rect x="712.54" y="168.18" width="1.7" height="10.91" fill="#ef5350"/><rect x="714.99" y="175.92" width="0.8" height="14.60" fill="#ef5350"/><rect x="714.54" y="177.27" width="1.7" height="12.73" fill="#ef5350"/><rect x="716.98" y="182.50" width="0.8" height="16.85" fill="#ef5350"/><rect x="716.53" y="186.36" width="1.7" height="10.91" fill="#ef5350"/><rect x="718.98" y="188.63" width="0.8" height="14.11" fill="#ef5350"/><rect x="718.53" y="191.82" width="1.7" height="9.09" fill="#ef5350"/><rect x="720.97" y="188.03" width="0.8" height="16.92" fill="#26a69a"/><rect x="720.52" y="191.82" width="1.7" height="10.91" fill="#26a69a"/><rect x="722.96" y="189.97" width="0.8" height="45.03" fill="#ef5350"/><rect x="722.51" y="191.82" width="1.7" height="29.09" fill="#ef5350"/><rect x="724.96" y="203.56" width="0.8" height="18.71" fill="#26a69a"/><rect x="724.51" y="206.36" width="1.7" height="12.73" fill="#26a69a"/><rect x="726.95" y="192.97" width="0.8" height="17.90" fill="#26a69a"/><rect x="726.50" y="197.27" width="1.7" height="12.73" fill="#26a69a"/><rect x="728.95" y="192.92" width="0.8" height="13.34" fill="#ef5350"/><rect x="728.50" y="195.45" width="1.7" height="9.09" fill="#ef5350"/><rect x="730.94" y="191.24" width="0.8" height="31.24" fill="#ef5350"/><rect x="730.49" y="195.45" width="1.7" height="25.45" fill="#ef5350"/><rect x="732.93" y="206.63" width="0.8" height="21.37" fill="#26a69a"/><rect x="732.48" y="208.18" width="1.7" height="10.91" fill="#26a69a"/><rect x="734.93" y="194.72" width="0.8" height="18.05" fill="#26a69a"/><rect x="734.48" y="199.09" width="1.7" height="12.73" fill="#26a69a"/><rect x="736.92" y="195.39" width="0.8" height="11.92" fill="#ef5350"/><rect x="736.47" y="197.27" width="1.7" height="7.27" fill="#ef5350"/><rect x="738.92" y="185.46" width="0.8" height="18.60" fill="#26a69a"/><rect x="738.47" y="190.00" width="1.7" height="12.73" fill="#26a69a"/><rect x="740.91" y="189.14" width="0.8" height="11.29" fill="#ef5350"/><rect x="740.46" y="190.00" width="1.7" height="7.27" fill="#ef5350"/><rect x="742.90" y="189.50" width="0.8" height="17.34" fill="#ef5350"/><rect x="742.45" y="193.64" width="1.7" height="10.91" fill="#ef5350"/><rect x="744.90" y="196.50" width="0.8" height="22.35" fill="#ef5350"/><rect x="744.45" y="197.27" width="1.7" height="16.36" fill="#ef5350"/><rect x="746.89" y="201.13" width="0.8" height="11.91" fill="#26a69a"/><rect x="746.44" y="202.73" width="1.7" height="7.27" fill="#26a69a"/><rect x="748.89" y="195.02" width="0.8" height="12.34" fill="#26a69a"/><rect x="748.44" y="197.27" width="1.7" height="7.27" fill="#26a69a"/><rect x="750.88" y="190.87" width="0.8" height="10.94" fill="#26a69a"/><rect x="750.43" y="191.82" width="1.7" height="7.27" fill="#26a69a"/><rect x="752.87" y="192.41" width="0.8" height="12.14" fill="#ef5350"/><rect x="752.42" y="193.64" width="1.7" height="9.09" fill="#ef5350"/><rect x="754.87" y="195.82" width="0.8" height="15.57" fill="#ef5350"/><rect x="754.42" y="199.09" width="1.7" height="9.09" fill="#ef5350"/><rect x="756.86" y="199.81" width="0.8" height="11.40" fill="#ef5350"/><rect x="756.41" y="200.91" width="1.7" height="9.09" fill="#ef5350"/><rect x="758.86" y="198.92" width="0.8" height="15.33" fill="#26a69a"/><rect x="758.41" y="200.91" width="1.7" height="10.91" fill="#26a69a"/><rect x="760.85" y="201.15" width="0.8" height="9.70" fill="#ef5350"/><rect x="760.40" y="202.73" width="1.7" height="7.27" fill="#ef5350"/><rect x="762.84" y="197.89" width="0.8" height="11.01" fill="#26a69a"/><rect x="762.39" y="199.09" width="1.7" height="7.27" fill="#26a69a"/><rect x="764.84" y="196.06" width="0.8" height="10.92" fill="#ef5350"/><rect x="764.39" y="199.09" width="1.7" height="7.27" fill="#ef5350"/><rect x="766.83" y="200.13" width="0.8" height="16.83" fill="#ef5350"/><rect x="766.38" y="202.73" width="1.7" height="10.91" fill="#ef5350"/><rect x="768.83" y="205.74" width="0.8" height="12.96" fill="#ef5350"/><rect x="768.38" y="206.36" width="1.7" height="9.09" fill="#ef5350"/><rect x="770.82" y="207.14" width="0.8" height="18.87" fill="#ef5350"/><rect x="770.37" y="208.18" width="1.7" height="14.55" fill="#ef5350"/><rect x="772.81" y="211.84" width="0.8" height="9.24" fill="#26a69a"/><rect x="772.36" y="213.64" width="1.7" height="5.45" fill="#26a69a"/><rect x="774.81" y="214.09" width="0.8" height="10.32" fill="#ef5350"/><rect x="774.36" y="215.45" width="1.7" height="7.27" fill="#ef5350"/><rect x="776.80" y="213.58" width="0.8" height="8.84" fill="#26a69a"/><rect x="776.35" y="215.45" width="1.7" height="5.45" fill="#26a69a"/><rect x="778.80" y="215.22" width="0.8" height="9.07" fill="#ef5350"/><rect x="778.35" y="217.27" width="1.7" height="5.45" fill="#ef5350"/><rect x="780.79" y="219.01" width="0.8" height="15.99" fill="#ef5350"/><rect x="780.34" y="221.15" width="1.7" height="10.93" fill="#ef5350"/><rect x="782.78" y="204.68" width="0.8" height="16.07" fill="#26a69a"/><rect x="782.33" y="207.49" width="1.7" height="10.93" fill="#26a69a"/><rect x="784.78" y="197.75" width="0.8" height="19.07" fill="#26a69a"/><rect x="784.33" y="199.29" width="1.7" height="13.66" fill="#26a69a"/><rect x="786.77" y="190.41" width="0.8" height="16.55" fill="#26a69a"/><rect x="786.32" y="193.83" width="1.7" height="10.93" fill="#26a69a"/><rect x="788.77" y="187.19" width="0.8" height="14.37" fill="#26a69a"/><rect x="788.32" y="188.36" width="1.7" height="10.93" fill="#26a69a"/><rect x="790.76" y="179.19" width="0.8" height="15.70" fill="#26a69a"/><rect x="790.31" y="180.16" width="1.7" height="13.66" fill="#26a69a"/><rect x="792.75" y="161.08" width="0.8" height="20.06" fill="#26a69a"/><rect x="792.30" y="163.77" width="1.7" height="16.39" fill="#26a69a"/><rect x="794.75" y="159.19" width="0.8" height="12.10" fill="#26a69a"/><rect x="794.30" y="161.04" width="1.7" height="8.20" fill="#26a69a"/><rect x="796.74" y="157.68" width="0.8" height="11.26" fill="#26a69a"/><rect x="796.29" y="158.31" width="1.7" height="8.20" fill="#26a69a"/><rect x="798.74" y="150.00" width="0.8" height="13.77" fill="#26a69a"/><rect x="798.29" y="152.84" width="1.7" height="8.20" fill="#26a69a"/><rect x="800.73" y="147.81" width="0.8" height="18.55" fill="#ef5350"/><rect x="800.28" y="151.48" width="1.7" height="12.30" fill="#ef5350"/><rect x="802.72" y="157.60" width="0.8" height="14.01" fill="#ef5350"/><rect x="802.27" y="158.31" width="1.7" height="10.93" fill="#ef5350"/><rect x="804.72" y="161.86" width="0.8" height="16.89" fill="#ef5350"/><rect x="804.27" y="163.77" width="1.7" height="10.93" fill="#ef5350"/><rect x="806.71" y="168.23" width="0.8" height="15.77" fill="#ef5350"/><rect x="806.26" y="169.23" width="1.7" height="10.93" fill="#ef5350"/><rect x="808.71" y="158.19" width="0.8" height="26.20" fill="#26a69a"/><rect x="808.26" y="163.77" width="1.7" height="16.39" fill="#26a69a"/><rect x="810.70" y="154.76" width="0.8" height="15.69" fill="#26a69a"/><rect x="810.25" y="158.31" width="1.7" height="10.93" fill="#26a69a"/><rect x="812.69" y="153.74" width="0.8" height="7.70" fill="#26a69a"/><rect x="812.24" y="156.16" width="1.7" height="3.82" fill="#26a69a"/><rect x="814.69" y="132.27" width="0.8" height="23.42" fill="#26a69a"/><rect x="814.24" y="137.07" width="1.7" height="13.99" fill="#26a69a"/><rect x="816.68" y="130.64" width="0.8" height="22.44" fill="#ef5350"/><rect x="816.23" y="131.98" width="1.7" height="16.54" fill="#ef5350"/><rect x="818.68" y="120.73" width="0.8" height="27.42" fill="#26a69a"/><rect x="818.23" y="126.90" width="1.7" height="20.36" fill="#26a69a"/><rect x="820.67" y="124.10" width="0.8" height="11.85" fill="#ef5350"/><rect x="820.22" y="125.62" width="1.7" height="7.63" fill="#ef5350"/><rect x="822.66" y="122.02" width="0.8" height="14.92" fill="#ef5350"/><rect x="822.21" y="123.08" width="1.7" height="10.18" fill="#ef5350"/><rect x="824.66" y="126.52" width="0.8" height="18.28" fill="#ef5350"/><rect x="824.21" y="128.17" width="1.7" height="12.72" fill="#ef5350"/><rect x="826.65" y="115.21" width="0.8" height="29.72" fill="#26a69a"/><rect x="826.20" y="116.72" width="1.7" height="24.17" fill="#26a69a"/><rect x="828.65" y="111.68" width="0.8" height="15.18" fill="#ef5350"/><rect x="828.20" y="115.45" width="1.7" height="10.18" fill="#ef5350"/><rect x="830.64" y="112.74" width="0.8" height="13.90" fill="#ef5350"/><rect x="830.19" y="114.17" width="1.7" height="10.18" fill="#ef5350"/><rect x="832.63" y="113.41" width="0.8" height="17.98" fill="#ef5350"/><rect x="832.18" y="115.45" width="1.7" height="15.27" fill="#ef5350"/><rect x="834.63" y="123.03" width="0.8" height="16.54" fill="#ef5350"/><rect x="834.18" y="124.35" width="1.7" height="13.99" fill="#ef5350"/><rect x="836.62" y="129.06" width="0.8" height="11.55" fill="#26a69a"/><rect x="836.17" y="131.98" width="1.7" height="6.36" fill="#26a69a"/><rect x="838.62" y="116.14" width="0.8" height="26.23" fill="#26a69a"/><rect x="838.17" y="121.81" width="1.7" height="19.08" fill="#26a69a"/><rect x="840.61" y="102.01" width="0.8" height="22.16" fill="#26a69a"/><rect x="840.16" y="106.54" width="1.7" height="16.54" fill="#26a69a"/><rect x="842.60" y="106.00" width="0.8" height="6.05" fill="#ef5350"/><rect x="842.15" y="108.60" width="1.7" height="2.00" fill="#ef5350"/><rect x="893" y="0" width="1" height="550" fill="#2a2e39"/><rect x="0" y="490.5" width="932" height="2" fill="#2f333e"/><rect x="13.00" y="492" width="1" height="9" fill="#282c37"/><rect x="74.81" y="492" width="1" height="9" fill="#282c37"/><rect x="136.63" y="492" width="1" height="9" fill="#282c37"/><rect x="196.45" y="492" width="1" height="9" fill="#282c37"/><rect x="258.26" y="492" width="1" height="9" fill="#282c37"/><rect x="318.08" y="492" width="1" height="9" fill="#282c37"/><rect x="379.90" y="492" width="1" height="9" fill="#282c37"/><rect x="441.71" y="492" width="1" height="9" fill="#282c37"/><rect x="497.54" y="492" width="1" height="9" fill="#282c37"/><rect x="559.36" y="492" width="1" height="9" fill="#282c37"/><rect x="619.18" y="492" width="1" height="9" fill="#282c37"/><rect x="680.99" y="492" width="1" height="9" fill="#282c37"/><rect x="740.81" y="492" width="1" height="9" fill="#282c37"/><rect x="802.62" y="492" width="1" height="9" fill="#282c37"/><rect x="864.44" y="492" width="1" height="9" fill="#282c37"/><rect x="893" y="39.90" width="4" height="2" fill="#2f333e"/><rect x="893" y="164.50" width="4" height="2" fill="#2f333e"/><rect x="893" y="289.50" width="4" height="2" fill="#2f333e"/><rect x="893" y="416.50" width="4" height="2" fill="#2f333e"/></svg>
<div class="t" style="left:4px;top:22px;font-size:27px;color:#a6a9b2;transform:scaleX(0.2406)">Bitcoin / U.S. Dollar, 1D, COINBASE</div><div class="t" style="left:4px;top:57.5px;font-size:27px;color:#a6a9b2;transform:scaleX(0.229)">ZCandles (5, 4, 80)</div>
<div class="t" style="left:13.50px;top:509px;font-size:27px;color:#a6a9b2;transform:translateX(-50%) scaleX(0.226);transform-origin:50% 0">Jul</div><div class="t" style="left:75.31px;top:509px;font-size:27px;color:#a6a9b2;transform:translateX(-50%) scaleX(0.226);transform-origin:50% 0">Aug</div><div class="t" style="left:137.13px;top:509px;font-size:27px;color:#a6a9b2;transform:translateX(-50%) scaleX(0.226);transform-origin:50% 0">Sep</div><div class="t" style="left:196.95px;top:509px;font-size:27px;color:#a6a9b2;transform:translateX(-50%) scaleX(0.226);transform-origin:50% 0">Oct</div><div class="t" style="left:258.76px;top:509px;font-size:27px;color:#a6a9b2;transform:translateX(-50%) scaleX(0.226);transform-origin:50% 0">Nov</div><div class="t" style="left:318.58px;top:509px;font-size:27px;color:#a6a9b2;transform:translateX(-50%) scaleX(0.226);transform-origin:50% 0">Dec</div><div class="t" style="left:380.40px;top:509px;font-size:27px;font-weight:bold;color:#a6a9b2;transform:translateX(-50%) scaleX(0.238);transform-origin:50% 0">2021</div><div class="t" style="left:442.21px;top:509px;font-size:27px;color:#a6a9b2;transform:translateX(-50%) scaleX(0.226);transform-origin:50% 0">Feb</div><div class="t" style="left:498.04px;top:509px;font-size:27px;color:#a6a9b2;transform:translateX(-50%) scaleX(0.226);transform-origin:50% 0">Mar</div><div class="t" style="left:559.86px;top:509px;font-size:27px;color:#a6a9b2;transform:translateX(-50%) scaleX(0.226);transform-origin:50% 0">Apr</div><div class="t" style="left:619.68px;top:509px;font-size:27px;color:#a6a9b2;transform:translateX(-50%) scaleX(0.226);transform-origin:50% 0">May</div><div class="t" style="left:681.49px;top:509px;font-size:27px;color:#a6a9b2;transform:translateX(-50%) scaleX(0.226);transform-origin:50% 0">Jun</div><div class="t" style="left:741.31px;top:509px;font-size:27px;color:#a6a9b2;transform:translateX(-50%) scaleX(0.226);transform-origin:50% 0">Jul</div><div class="t" style="left:803.12px;top:509px;font-size:27px;color:#a6a9b2;transform:translateX(-50%) scaleX(0.226);transform-origin:50% 0">Aug</div><div class="t" style="left:864.94px;top:509px;font-size:27px;color:#a6a9b2;transform:translateX(-50%) scaleX(0.226);transform-origin:50% 0">Sep</div>
<div class="t" style="left:898px;top:152.15px;font-size:28px;color:#a6a9b2;transform:scaleX(0.212)">40000.00</div><div class="t" style="left:898px;top:277.0px;font-size:28px;color:#a6a9b2;transform:scaleX(0.212)">20000.00</div><div class="t" style="left:898px;top:401.55px;font-size:28px;color:#a6a9b2;transform:scaleX(0.212)">0.00</div><div class="t" style="left:898px;top:24.85px;font-size:28px;color:#a6a9b2;transform:scaleX(0.212)">60000.00</div><div style="position:absolute;left:893px;top:93px;width:33.5px;height:65px;background:#ef5350"></div><div style="position:absolute;left:905.5px;top:12.7px;width:13.5px;height:39.6px;box-sizing:border-box;border:1px solid #363a45;border-top-width:2px;border-bottom-width:2px;border-radius:3px;background:#131722"></div><div class="t" style="left:907.3px;top:16.5px;font-size:27px;color:#c8cbd3;transform:scaleX(0.205)">USD</div><div class="t" style="left:898px;top:97.55px;font-size:28px;color:#ffffff;transform:scaleX(0.212)">49035.36</div><div class="t" style="left:898px;top:127.55px;font-size:28px;color:#ffffff;transform:scaleX(0.212)">09:26:19</div>
</body></html>
